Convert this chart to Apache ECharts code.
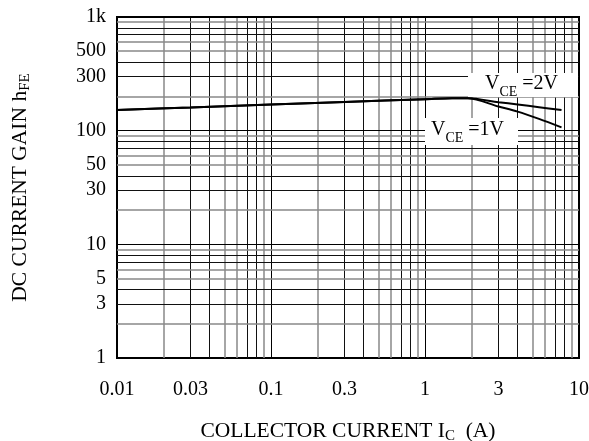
<!DOCTYPE html>
<html><head><meta charset="utf-8">
<script src="https://cdn.jsdelivr.net/npm/echarts@6/dist/echarts.min.js"></script>
<style>html,body{margin:0;padding:0;background:#fff}#c{width:589px;height:441px}</style>
</head><body><div id="c"></div>
<script>
// ---- data ----
const xTickLabels = [0.01, 0.03, 0.1, 0.3, 1, 3, 10];
const yTickLabels = [1, 3, 5, 10, 30, 50, 100, 300, 500, 1000];
const xDecades = [0.01, 0.1, 1];
const yDecades = [1, 10, 100];
const gridMultipliers = [1, 2, 3, 4, 5, 6, 7, 8, 9];
const xMax = 10;
const yMax = 1000;

const icShared  = [0.01, 0.03, 0.1, 0.3, 1, 1.5, 1.9];
const hfeShared = [152, 160, 170, 179, 189, 193, 193];
const icTail    = [3, 4, 5.5, 7.7];
const hfeVce2   = [178, 170, 161, 152];
const hfeVce1   = [163, 147, 127, 107];

// ---- styles ----
const FONT = 'Liberation Serif, Times New Roman, serif';
const gridColors = ['#000', '#888', '#111', '#111', '#888', '#888', '#111', '#111', '#888'];
const gridWidths = [1, 1.5, 1, 1, 1.5, 1.5, 1, 1, 1.5];

function fmt(v) { return v >= 1000 ? (v / 1000) + 'k' : String(v); }

function gridItems(decades, top, key, labels) {
  const vals = [];
  decades.forEach(d => gridMultipliers.forEach((m, i) => vals.push([+(d * m).toPrecision(6), i])));
  vals.push([top, 0]);
  return vals.map(([v, i]) => {
    const isLab = labels.some(l => Math.abs(l - v) < 1e-9);
    const item = { lineStyle: { color: gridColors[i], width: gridWidths[i], type: 'solid' } };
    item[key] = v;
    item.label = isLab ? {
      show: true, position: 'start', formatter: fmt(v), color: '#000',
      fontSize: 20, fontFamily: FONT,
      distance: key === 'xAxis' ? [0, 22] : [11, 0]
    } : { show: false };
    return item;
  });
}

function pairs(xs, ys) { return xs.map((x, i) => [x, ys[i]]); }

const chart = echarts.init(document.getElementById('c'), null, { renderer: 'canvas' });
chart.setOption({
  animation: false,
  backgroundColor: '#fff',
  grid: { left: 117, right: 10, top: 17, bottom: 83, show: true, borderColor: '#000', borderWidth: 2,
    backgroundColor: 'transparent', outerBoundsMode: 'none', containLabel: false },
  xAxis: {
    type: 'log', logBase: 10, min: xTickLabels[0], max: xMax,
    axisLine: { show: false }, axisTick: { show: false }, axisLabel: { show: false }, splitLine: { show: false },
    name: 'COLLECTOR CURRENT I{s|C}  (A)', nameLocation: 'middle', nameGap: 60,
    nameTextStyle: { color: '#000', fontSize: 21.5, fontFamily: FONT,
      rich: { s: { fontSize: 15, fontFamily: FONT, color: '#000', verticalAlign: 'top', padding: [11, 0, 0, 0] } } }
  },
  yAxis: {
    type: 'log', logBase: 10, min: yTickLabels[0], max: yMax,
    axisLine: { show: false }, axisTick: { show: false }, axisLabel: { show: false }, splitLine: { show: false },
    name: 'DC CURRENT GAIN h{s|FE}', nameLocation: 'middle', nameGap: 84, nameRotate: 90,
    nameTextStyle: { color: '#000', fontSize: 21.5, fontFamily: FONT,
      rich: { s: { fontSize: 15, fontFamily: FONT, color: '#000', verticalAlign: 'top', padding: [10, 0, 0, 0] } } }
  },
  series: [
    {
      name: 'VCE=2V', type: 'line', data: pairs(icShared.concat(icTail), hfeShared.concat(hfeVce2)),
      showSymbol: false, smooth: 0.3, clip: false, z: 3,
      lineStyle: { color: '#000', width: 2 },
      markLine: {
        silent: true, symbol: ['none', 'none'], z: 1, animation: false,
        emphasis: { disabled: true },
        data: gridItems(xDecades, xMax, 'xAxis', xTickLabels).concat(gridItems(yDecades, yMax, 'yAxis', yTickLabels))
      }
    },
    {
      name: 'VCE=1V', type: 'line', data: pairs(icShared.concat(icTail), hfeShared.concat(hfeVce1)),
      showSymbol: false, smooth: 0.3, clip: false, z: 3,
      lineStyle: { color: '#000', width: 2 }
    }
  ],
  graphic: [
    { type: 'rect', left: 468, top: 73, shape: { width: 110, height: 24 }, style: { fill: '#fff' }, z: 2 },
    { type: 'text', left: 485, top: 74, z: 10,
      style: { text: '{v|V}{s|CE}{v| =2V}', fill: '#000',
        rich: { v: { fontSize: 20, fontFamily: FONT, fill: '#000', verticalAlign: 'bottom', padding: [0, 0, 5, 0] },
                s: { fontSize: 14, fontFamily: FONT, fill: '#000', verticalAlign: 'bottom' } } } },
    { type: 'rect', left: 425, top: 118, shape: { width: 93, height: 27 }, style: { fill: '#fff' }, z: 2 },
    { type: 'text', left: 431, top: 120, z: 10,
      style: { text: '{v|V}{s|CE}{v| =1V}', fill: '#000',
        rich: { v: { fontSize: 20, fontFamily: FONT, fill: '#000', verticalAlign: 'bottom', padding: [0, 0, 5, 0] },
                s: { fontSize: 14, fontFamily: FONT, fill: '#000', verticalAlign: 'bottom' } } } }
  ]
});
</script></body></html>
